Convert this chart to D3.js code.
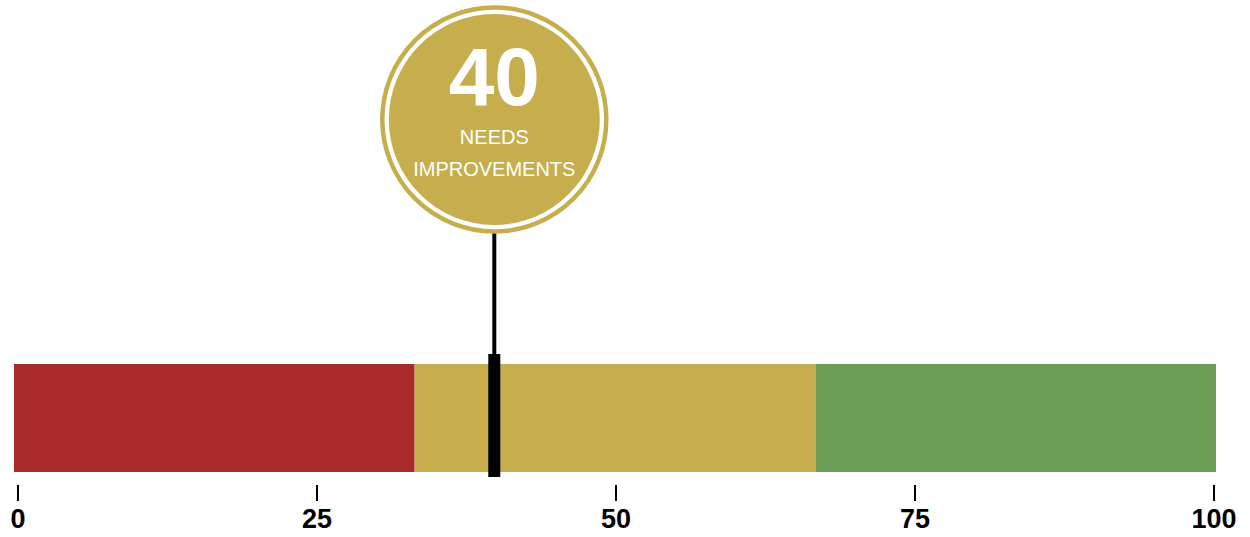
<!DOCTYPE html>
<html>
<head>
<meta charset="utf-8">
<script src="https://cdn.jsdelivr.net/npm/d3@7"></script>
<style>
  body { margin: 0; background: #fff; }
  svg { display: block; font-family: 'Liberation Sans', Arial, sans-serif; }
</style>
</head>
<body>
<div id="chart-container"></div>
<script>
// gauge bar with score bubble
const bands = [
  { from: 0, to: 33.33, color: '#a92a2b' },
  { from: 33.33, to: 66.67, color: '#c6ae4d' },
  { from: 66.67, to: 100, color: '#6c9e55' }
];
const tickValues = [0, 25, 50, 75, 100];
const score = 40;
const scoreLabel = ['NEEDS', 'IMPROVEMENTS'];
const bubbleColor = '#c6ae4d';

const svgWidth = 1250;
const svgHeight = 537;

const svg = d3
  .select('#chart-container')
  .append('svg')
  .attr('width', svgWidth)
  .attr('height', svgHeight);

const barTop = 364;
const barHeight = 108;

// bar scale and axis scale are a touch different in the original
const xScale = d3.scaleLinear().domain([0, 100]).range([14, 1216]);
const axisScale = d3.scaleLinear().domain([0, 100]).range([17.5, 1213.5]);

// colored bands
svg
  .selectAll('rect.band')
  .data(bands)
  .enter()
  .append('rect')
  .attr('class', 'band')
  .attr('x', (d) => xScale(d.from))
  .attr('y', barTop)
  .attr('width', (d) => xScale(d.to) - xScale(d.from))
  .attr('height', barHeight)
  .attr('fill', (d) => d.color);

// axis
const xAxis = d3.axisBottom(axisScale).tickValues(tickValues).tickSize(16).tickPadding(8);
const axisG = svg
  .append('g')
  .attr('transform', 'translate(0,485)')
  .call(xAxis);
axisG.select('.domain').remove();
axisG.selectAll('line').attr('stroke', '#000').attr('stroke-width', 2);
axisG
  .selectAll('text')
  .attr('fill', '#000')
  .style('font-size', '27px')
  .style('font-weight', '700')
  .attr('dy', '0.71em');

// marker
const mx = xScale(score) - 0.5;
const bubbleY = 119.5;
svg
  .append('line')
  .attr('x1', mx)
  .attr('x2', mx)
  .attr('y1', bubbleY + 112)
  .attr('y2', 356)
  .attr('stroke', '#000')
  .attr('stroke-width', 4);
svg
  .append('rect')
  .attr('x', mx - 6)
  .attr('y', 354)
  .attr('width', 12)
  .attr('height', 123)
  .attr('fill', '#000');

// bubble
svg
  .append('circle')
  .attr('cx', mx)
  .attr('cy', bubbleY)
  .attr('r', 112)
  .attr('fill', '#fff')
  .attr('stroke', bubbleColor)
  .attr('stroke-width', 4.5);
svg
  .append('circle')
  .attr('cx', mx)
  .attr('cy', bubbleY)
  .attr('r', 105.5)
  .attr('fill', bubbleColor);

svg
  .append('text')
  .attr('x', mx)
  .attr('y', 105)
  .attr('text-anchor', 'middle')
  .attr('fill', '#fff')
  .style('font-size', '82px')
  .style('font-weight', '700')
  .text(score);

svg
  .selectAll('text.status')
  .data(scoreLabel)
  .enter()
  .append('text')
  .attr('class', 'status')
  .attr('x', mx)
  .attr('y', (d, i) => 144 + i * 32)
  .attr('text-anchor', 'middle')
  .attr('fill', '#fff')
  .style('font-size', '20px')
  .text((d) => d);
</script>
</body>
</html>
